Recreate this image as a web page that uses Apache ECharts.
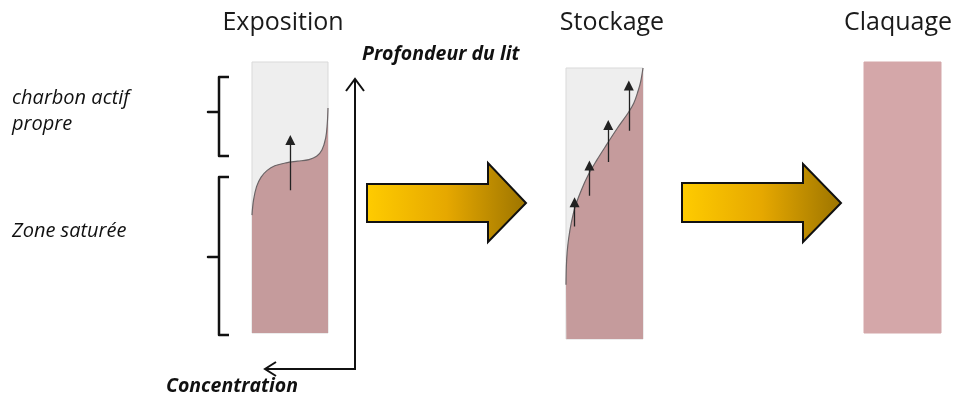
<!DOCTYPE html>
<html lang="fr">
<head>
    <meta charset="UTF-8">
    <title>Exposition - Stockage - Claquage</title>
    <style>
        html, body { margin: 0; padding: 0; background: #fff; }
        #main { width: 956px; height: 403px; }
    </style>
</head>
<body>
<div id="main"></div>
<script src="https://cdn.jsdelivr.net/npm/echarts@6/dist/echarts.min.js"></script>
<script>
    // titres des trois colonnes
    const stages = ['Exposition', 'Stockage', 'Claquage'];

    // profils [concentration, profondeur] (valeurs normalisées 0..1)
    const exposureProfile = [
        [0, 0.435], [0.02, 0.49], [0.06, 0.54], [0.12, 0.575], [0.2, 0.6],
        [0.3, 0.617], [0.45, 0.628], [0.6, 0.634], [0.75, 0.64], [0.85, 0.652],
        [0.92, 0.675], [0.97, 0.72], [0.99, 0.77], [1.0, 0.83]
    ];
    const storageProfile = [
        [0, 0.2], [0.005, 0.27], [0.015, 0.32], [0.034, 0.37], [0.07, 0.43],
        [0.12, 0.489], [0.2, 0.55], [0.29, 0.606], [0.4, 0.66], [0.527, 0.717],
        [0.66, 0.775], [0.806, 0.834], [0.88, 0.87], [0.935, 0.914], [0.97, 0.95], [1.0, 1.0]
    ];
    const breakthroughProfile = [[0, 1], [1, 1]];

    // petites flèches de migration du front [x, y départ, y arrivée]
    const exposureArrows = [[0.504, 0.527, 0.712]];
    const storageArrows = [
        [0.111, 0.415, 0.505],
        [0.304, 0.529, 0.64],
        [0.549, 0.653, 0.79],
        [0.816, 0.768, 0.935]
    ];

    const pink = '#c59b9c';
    const pinkLight = '#d4a7a9';

    const myChart = echarts.init(document.getElementById('main'));

    const grids = [
        {left: 252, top: 62, width: 76, height: 271},
        {left: 566, top: 68, width: 77, height: 271},
        {left: 864, top: 62, width: 77, height: 271}
    ];

    function axis(i) {
        return {gridIndex: i, type: 'value', min: 0, max: 1, show: false};
    }

    function profile(i, data, color) {
        return {
            type: 'line', xAxisIndex: i, yAxisIndex: i,
            data: data, smooth: 0.35, symbol: 'none',
            lineStyle: {color: i === 2 ? color : '#6b6466', width: i === 2 ? 0 : 1.2},
            areaStyle: {color: color, opacity: 1, origin: 'start'},
            silent: true, z: 2
        };
    }

    function arrows(i, list) {
        return {
            type: 'lines', coordinateSystem: 'cartesian2d', xAxisIndex: i, yAxisIndex: i,
            symbol: ['none', 'triangle'], symbolSize: [7, 10],
            lineStyle: {color: '#222', width: 1.3, opacity: 1},
            data: list.map(a => ({coords: [[a[0], a[1]], [a[0], a[2]]]})),
            silent: true, z: 3
        };
    }

    const bigArrowFill = new echarts.graphic.LinearGradient(0, 0, 1, 0, [
        {offset: 0, color: '#ffcc00'},
        {offset: 0.5, color: '#e6a800'},
        {offset: 1, color: '#9c7400'}
    ]);

    function bigArrow(x0, xh, xt, yt, yb, yht, yhb, ym) {
        return {
            type: 'polygon',
            shape: {points: [[x0, yt], [xh, yt], [xh, yht], [xt, ym], [xh, yhb], [xh, yb], [x0, yb]]},
            style: {fill: bigArrowFill, stroke: '#111', lineWidth: 2, lineJoin: 'miter'}
        };
    }

    function bracket(yTop, yMid, yBot) {
        return {
            type: 'polyline',
            shape: {points: [[229, yTop], [219, yTop], [219, yMid], [208, yMid], [219, yMid], [219, yBot], [229, yBot]]},
            style: {stroke: '#111', lineWidth: 2.5, fill: null, lineJoin: 'round'}
        };
    }

    function label(text, x, y, opts) {
        return {
            type: 'text', x: x, y: y,
            style: Object.assign({
                text: text, fill: '#111', fontFamily: 'Open Sans',
                fontSize: 20, fontStyle: 'italic', verticalAlign: 'middle'
            }, opts || {})
        };
    }

    const titleCenters = [283, 612, 898];

    myChart.setOption({
        animation: false,
        grid: grids.map((g, i) => Object.assign({
            show: true,
            backgroundColor: i === 2 ? pinkLight : '#eeeeee',
            borderColor: i === 2 ? pinkLight : '#d9d9d9',
            borderWidth: 1
        }, g)),
        xAxis: [axis(0), axis(1), axis(2)],
        yAxis: [axis(0), axis(1), axis(2)],
        series: [
            profile(0, exposureProfile, pink),
            profile(1, storageProfile, pink),
            profile(2, breakthroughProfile, pinkLight),
            arrows(0, exposureArrows),
            arrows(1, storageArrows)
        ],
        graphic: [
            ...stages.map((s, i) => label(s, titleCenters[i], 23, {
                fontSize: 25, fontStyle: 'normal', align: 'center', fill: '#1a1a1a'
            })),
            label('charbon actif', 12, 98),
            label('propre', 12, 124),
            label('Zone saturée', 12, 231),
            label('Profondeur du lit', 362, 54, {fontWeight: 'bold', fontSize: 19.5}),
            label('Concentration', 166, 386, {fontWeight: 'bold', fontSize: 19.5}),
            bracket(77, 112, 156),
            bracket(177, 257, 335),
            // axes profondeur / concentration
            {
                type: 'polyline',
                shape: {points: [[265, 369], [355, 369], [355, 79]]},
                style: {stroke: '#111', lineWidth: 2, fill: null}
            },
            {
                type: 'polyline',
                shape: {points: [[346, 91], [355, 79], [364, 91]]},
                style: {stroke: '#111', lineWidth: 2, fill: null}
            },
            {
                type: 'polyline',
                shape: {points: [[276, 362], [265, 369], [276, 376]]},
                style: {stroke: '#111', lineWidth: 2, fill: null}
            },
            bigArrow(367, 488, 526, 184, 222, 163, 242, 203),
            bigArrow(682, 803, 841, 183, 222, 164, 242, 203)
        ]
    });
</script>
</body>
</html>
